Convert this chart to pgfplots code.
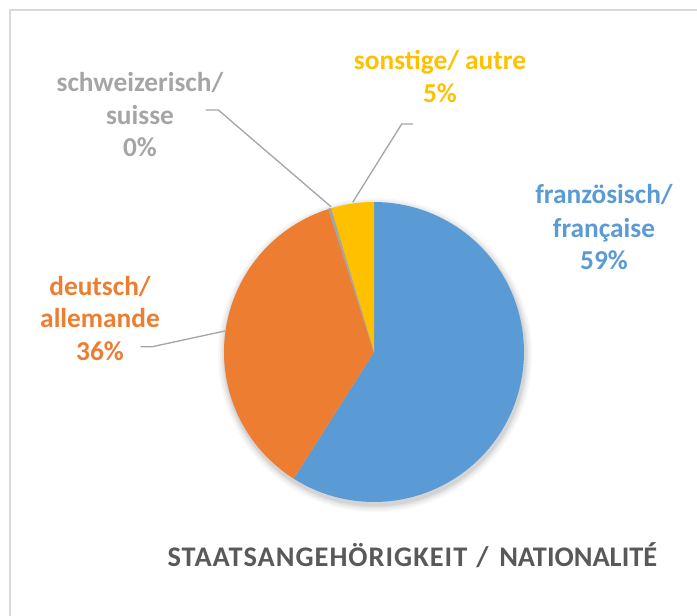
\documentclass[border=0pt]{standalone}
\usepackage{fontspec}
\setmainfont{Carlito}
\usepackage{pgfplots}
\usepackage{pgfplotstable}
\pgfplotsset{compat=1.18}

\definecolor{cBlue}{HTML}{5B9BD5}
\definecolor{cOrange}{HTML}{ED7D31}
\definecolor{cGray}{HTML}{A5A5A5}
\definecolor{cYellow}{HTML}{FFC000}
\definecolor{cTitle}{HTML}{595959}
\definecolor{cLeader}{HTML}{A6A6A6}
\definecolor{cFrame}{HTML}{D9D9D9}

% share of each nationality (percent), in Excel order (clockwise from 12 o'clock)
\pgfplotstableread{
name value
francaise 59.0
allemande 36.1
suisse 0.3
autre 4.6
}\piedata

\pgfplotstablegetelem{0}{value}\of\piedata \let\vA\pgfplotsretval
\pgfplotstablegetelem{1}{value}\of\piedata \let\vB\pgfplotsretval
\pgfplotstablegetelem{2}{value}\of\piedata \let\vC\pgfplotsretval
\pgfplotstablegetelem{3}{value}\of\piedata \let\vD\pgfplotsretval
\pgfmathsetmacro{\aO}{90}
\pgfmathsetmacro{\aA}{90-3.6*\vA}
\pgfmathsetmacro{\aB}{\aA-3.6*\vB}
\pgfmathsetmacro{\aC}{\aB-3.6*\vC}
\pgfmathsetmacro{\aD}{\aC-3.6*\vD}

\newcommand{\lbl}{\fontsize{20.5pt}{24.7pt}\selectfont\bfseries}
\newcommand{\ttl}{\fontsize{21.3pt}{25pt}\selectfont\bfseries}

\begin{document}
\begin{tikzpicture}
\path[use as bounding box] (0,0) rectangle (522.75pt,461.25pt);
\begin{axis}[
  at={(0,0)}, anchor=south west,
  scale only axis, width=522.75pt, height=461.25pt,
  xmin=0, xmax=697, ymin=0, ymax=615,
  hide axis, clip=false,
]
% chart frame (only top and left visible)
\draw[cFrame, line width=1.5pt] (axis cs:10,-100) -- (axis cs:10,605) -- (axis cs:800,605);
% soft shadow
\fill[black, opacity=0.03] (axis cs:375,260) circle[radius=117.75pt];
\fill[black, opacity=0.04] (axis cs:375,260) circle[radius=116.25pt];
\fill[black, opacity=0.05] (axis cs:375,260) circle[radius=114.75pt];
\fill[black, opacity=0.06] (axis cs:375,260) circle[radius=113.6pt];
% slices
\addplot[draw=none, fill=cBlue, domain=\aA:\aO, samples=90]
  ({374+150*cos(x)}, {263+150*sin(x)}) -- (axis cs:374,263) -- cycle;
\addplot[draw=none, fill=cOrange, domain=\aB:\aA, samples=90]
  ({374+150*cos(x)}, {263+150*sin(x)}) -- (axis cs:374,263) -- cycle;
\addplot[draw=cGray, line width=0.6pt, fill=cGray, domain=\aC:\aB, samples=3]
  ({374+150*cos(x)}, {263+150*sin(x)}) -- (axis cs:374,263) -- cycle;
\addplot[draw=none, fill=cYellow, domain=\aD:\aC, samples=20]
  ({374+150*cos(x)}, {263+150*sin(x)}) -- (axis cs:374,263) -- cycle;

% leader lines
\draw[cLeader, line width=1pt] (axis cs:205.7,505) -- (axis cs:218.3,505) -- (axis cs:331,408.3);
\draw[cLeader, line width=1pt] (axis cs:413,491) -- (axis cs:401.7,491) -- (axis cs:352.7,412.7);
\draw[cLeader, line width=1pt] (axis cs:140.7,268.3) -- (axis cs:152.3,268.3) -- (axis cs:225,284);

% labels
\node[anchor=base, text=cGray, font=\lbl] at (axis cs:140,523) {schweizerisch/};
\node[anchor=base, text=cGray, font=\lbl] at (axis cs:140,490.5) {suisse};
\node[anchor=base, text=cGray, font=\lbl] at (axis cs:140,458) {0\%};

\node[anchor=base, text=cYellow, font=\lbl] at (axis cs:440,545) {sonstige/ autre};
\node[anchor=base, text=cYellow, font=\lbl] at (axis cs:440,512) {5\%};

\node[anchor=base, text=cBlue, font=\lbl] at (axis cs:604,411) {französisch/};
\node[anchor=base, text=cBlue, font=\lbl] at (axis cs:604,378) {française};
\node[anchor=base, text=cBlue, font=\lbl] at (axis cs:604,345) {59\%};

\node[anchor=base, text=cOrange, font=\lbl] at (axis cs:100,320) {deutsch/};
\node[anchor=base, text=cOrange, font=\lbl] at (axis cs:100,287.5) {allemande};
\node[anchor=base, text=cOrange, font=\lbl] at (axis cs:100,255) {36\%};

% title
\node[anchor=base west, text=cTitle, font=\ttl\addfontfeature{LetterSpace=3.5}, inner sep=0pt] at (axis cs:167.3,48.3) {STAATSANGEHÖRIGKEIT};
\node[anchor=base west, text=cTitle, font=\ttl, inner sep=0pt] at (axis cs:476,48.3) {/};
\node[anchor=base west, text=cTitle, font=\ttl, inner sep=0pt] at (axis cs:499,48.3) {NATIONALITÉ};
\end{axis}
\end{tikzpicture}
\end{document}
